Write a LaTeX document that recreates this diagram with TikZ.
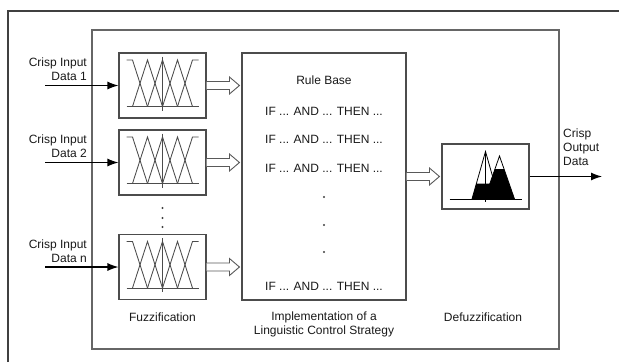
\documentclass[tikz,border=0pt]{standalone}
\usepackage{fontspec}
\setmainfont{Liberation Sans}
\usetikzlibrary{calc,arrows.meta}

\begin{document}
\begin{tikzpicture}[x=1pt,y=-1pt]
    \tikzstyle{lbl}=[inner sep=0pt,text=black!90,font=\fontsize{12}{14}\selectfont]
    \tikzstyle{blk}=[draw=black!70,line width=1.1pt,inner sep=0pt,fill=white]
    \tikzstyle{frame}=[draw=black!60,line width=1.3pt]
    \tikzstyle{mf}=[draw=black!70,line width=0.85pt]
    \tikzstyle{fwd}=[draw=black,line width=1.1pt,-{Latex[length=11pt,width=8pt]}]
    \tikzstyle{hol}=[draw=black!65,line width=0.9pt,fill=white]

    \def\fx{162.5}
    \def\rx{324}
    \def\dfx{485.5}
    \def\my{176.5}

    % membership functions of one fuzzifier
    \def\memb#1{%
      \begin{scope}[shift={(#1)}]
        \draw[mf] (-36,-25.5) -- (-30,-25.5) -- (-15,21);
        \draw[mf] (-30,21) -- (-15,-25.5) -- (0,21);
        \draw[mf] (-15,21) -- (0,-25.5) -- (15,21);
        \draw[mf] (0,21) -- (15,-25.5) -- (30,21);
        \draw[mf] (15,21) -- (30,-25.5) -- (36,-25.5);
        \draw[mf] (-36,21) -- (36,21);
        \draw[mf] (0,-29) -- (0,25);
      \end{scope}}
    % open block arrow
    \def\hollow#1#2{%
      \draw[hol] let \p1=(#1), \p2=(#2) in
        (\x1,\y1+4pt) -- (\x2-10pt,\y1+4pt) -- (\x2-10pt,\y1+8.5pt) -- (\x2,\y1)
        -- (\x2-10pt,\y1-8.5pt) -- (\x2-10pt,\y1-4pt) -- (\x1,\y1-4pt);}

    \useasboundingbox (0,0) rectangle (619,362);

    \draw[frame,draw=black!75,line width=1.5pt] (8,362) |- (619,11);
    \draw[frame] (92,30) rectangle (559,349);

    \node[blk,minimum width=87pt,minimum height=65pt] (f1) at (\fx,85.5) {};
    \node[blk,minimum width=87pt,minimum height=65pt] (f2) at (\fx,162.5) {};
    \node[blk,minimum width=87pt,minimum height=65pt] (fn) at (\fx,267) {};
    \node[blk,minimum width=164pt,minimum height=247pt] (rb) at (\rx,\my) {};
    \node[blk,minimum width=87pt,minimum height=65pt] (df) at (\dfx,\my) {};

    \memb{f1.center}
    \memb{f2.center}
    \memb{fn.center}

    \foreach \yy in {208,218,227} \fill[black!75] (\fx,\yy) circle (1.2pt);

    \coordinate (i1) at (45,85.5);
    \coordinate (i2) at (45,162.5);
    \coordinate (in) at (45,267);
    \coordinate (out) at (602,\my);

    \node[lbl,align=right,anchor=south east] (l1) at ([xshift=42pt,yshift=4.5pt]i1) {Crisp Input\\Data 1};
    \node[lbl,align=right,anchor=south east] (l2) at ([xshift=42pt,yshift=4.5pt]i2) {Crisp Input\\Data 2};
    \node[lbl,align=right,anchor=south east] (ln) at ([xshift=42pt,yshift=4.5pt]in) {Crisp Input\\Data n};

   \draw [fwd] (i1) -- (f1);
   \draw [fwd] (i2) -- (f2);
   \draw [fwd] (in) -- (fn);
   \draw [fwd] (df) -- (out);

   \hollow{f1.east}{[xshift=-2pt]rb.west |- f1.east}
   \hollow{f2.east}{[xshift=-2pt]rb.west |- f2.east}
   \hollow{fn.east}{[xshift=-2pt]rb.west |- fn.east}
   \hollow{rb.east}{[xshift=-2pt]df.west}

    % rule base
    \node[lbl] (rbt) at (\rx,80) {Rule Base};
    \node[lbl] (r1) at (\rx,111) {IF ... AND ... THEN ...};
    \node[lbl] (r2) at (\rx,139) {IF ... AND ... THEN ...};
    \node[lbl] (r3) at (\rx,168) {IF ... AND ... THEN ...};
    \node[lbl] (rk) at (\rx,286) {IF ... AND ... THEN ...};
    \foreach \yy in {197,225,252} \fill[black!75] (\rx,\yy) circle (1.2pt);

    % defuzzifier
    \begin{scope}[shift={(df.center)}]
      \fill[black] (-13.5,22.5) -- (-9.1,7) -- (4.4,7) -- (9.5,-7.5) -- (18.5,-7.5) -- (29,22.5) -- cycle;
      \draw[line width=0.8pt] (-13.5,22.5) -- (0,-25) -- (13.5,22.5);
      \draw[line width=0.8pt] (-1,22.5) -- (14,-20.5) -- (29,22.5);
      \draw[line width=0.8pt] (-36,22.5) -- (36,22.5);
      \draw[line width=0.8pt] (0,-25) -- (0,25.5);
    \end{scope}

    \node[lbl,align=left,anchor=south west] (lo) at (563,166) {Crisp\\Output\\Data};

    \node[lbl] (cf) at (\fx,317) {Fuzzification};
    \node[lbl,align=center] (cr) at (\rx,324.5) {Implementation of a\\Linguistic Control Strategy};
    \node[lbl] (cd) at (483,317) {Defuzzification};

\end{tikzpicture}
\end{document}
